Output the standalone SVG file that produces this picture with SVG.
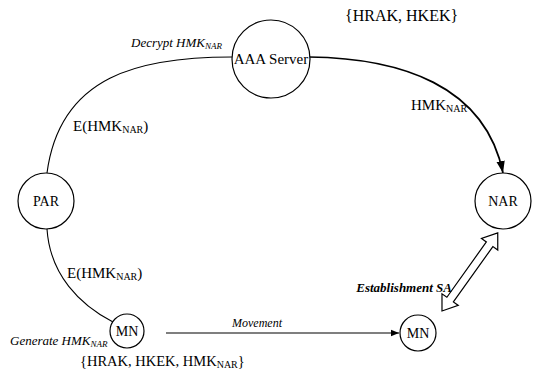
<svg xmlns="http://www.w3.org/2000/svg" width="537" height="378" viewBox="0 0 537 378">
  <defs>
    <marker id="tip" viewBox="0 0 10 10" refX="10" refY="5" markerWidth="8" markerHeight="8" markerUnits="userSpaceOnUse" orient="auto">
      <path d="M0,1 L10,5 L0,9 Z" fill="#000"/>
    </marker>
    <marker id="tipBig" viewBox="0 0 10 10" refX="10" refY="5" markerWidth="12" markerHeight="12" markerUnits="userSpaceOnUse" orient="auto">
      <path d="M0,1.5 L10,5 L0,8.5 Z" fill="#000"/>
    </marker>
  </defs>
  <style>
    text { font-family: "Liberation Serif", "Times New Roman", serif; fill: #000; }
    .node { fill: #fff; stroke: #000; stroke-width: 1.2; }
    .name { font-size: 15px; text-anchor: middle; }
    .small { font-size: 14px; }
    .lbl { font-size: 15px; }
    .it { font-size: 13px; font-style: italic; }
    .sub { font-size: 10px; }
    .isub { font-size: 9px; }
    .edge { fill: none; stroke: #000; stroke-width: 1.1; }
  </style>
  <rect width="537" height="378" fill="#fff"/>

  <g id="connectors">
    <!-- AAA Server to PAR -->
    <path class="edge" d="M232,57 C140,57 60,75 47,173"/>
    <!-- PAR to MN -->
    <path class="edge" d="M47,229 C50,275 80,305 113,322"/>
    <!-- AAA Server to NAR -->
    <path class="edge" style="stroke-width:1.7" d="M309,57 C400,58 485,85 503,173" marker-end="url(#tipBig)"/>
    <!-- movement -->
    <path class="edge" d="M166,333 L399,333" marker-end="url(#tip)"/>
    <!-- establishment of SA: hollow double arrow -->
    <g transform="translate(442,311) rotate(-54.5)">
      <polygon points="0,0 14,-10 14,-4 82,-4 82,-10 96,0 82,10 82,4 14,4 14,10" fill="#fff" stroke="#000" stroke-width="1.2" stroke-linejoin="miter"/>
    </g>
  </g>

  <g id="aaa">
    <circle class="node" cx="271" cy="59" r="39"/>
    <text class="name" x="271" y="64">AAA Server</text>
  </g>
  <g id="par">
    <circle class="node" cx="46" cy="201" r="28"/>
    <text class="name small" x="46" y="206">PAR</text>
  </g>
  <g id="nar">
    <circle class="node" cx="503" cy="201" r="28"/>
    <text class="name small" x="503" y="206">NAR</text>
  </g>
  <g id="mn-old">
    <circle class="node" cx="127" cy="331" r="17"/>
    <text class="name small" x="127" y="336">MN</text>
  </g>
  <g id="mn-new">
    <circle class="node" cx="418" cy="333" r="18"/>
    <text class="name small" x="418" y="338">MN</text>
  </g>

  <g id="labels">
    <text class="lbl" x="345" y="21" style="font-size:16px">{HRAK, HKEK}</text>
    <text class="it" x="131" y="47">Decrypt HMK<tspan class="isub" dy="2">NAR</tspan></text>
    <text class="lbl small" x="73" y="131">E(HMK<tspan class="sub" dy="2">NAR</tspan><tspan dy="-2">)</tspan></text>
    <text class="lbl" x="411" y="110">HMK<tspan class="sub" dy="2">NAR</tspan></text>
    <text class="lbl small" x="67" y="278">E(HMK<tspan class="sub" dy="2">NAR</tspan><tspan dy="-2">)</tspan></text>
    <text class="it" x="10" y="345">Generate HMK<tspan class="isub" dy="2">NAR</tspan></text>
    <text class="lbl" x="80" y="366" style="font-size:14.5px">{HRAK, HKEK, HMK<tspan class="sub" dy="2">NAR</tspan><tspan dy="-2">}</tspan></text>
    <text class="it" x="257" y="327" text-anchor="middle" style="font-size:12px">Movement</text>
    <text class="it" x="452" y="292" text-anchor="end" style="font-weight:bold">Establishment SA</text>
  </g>
</svg>
